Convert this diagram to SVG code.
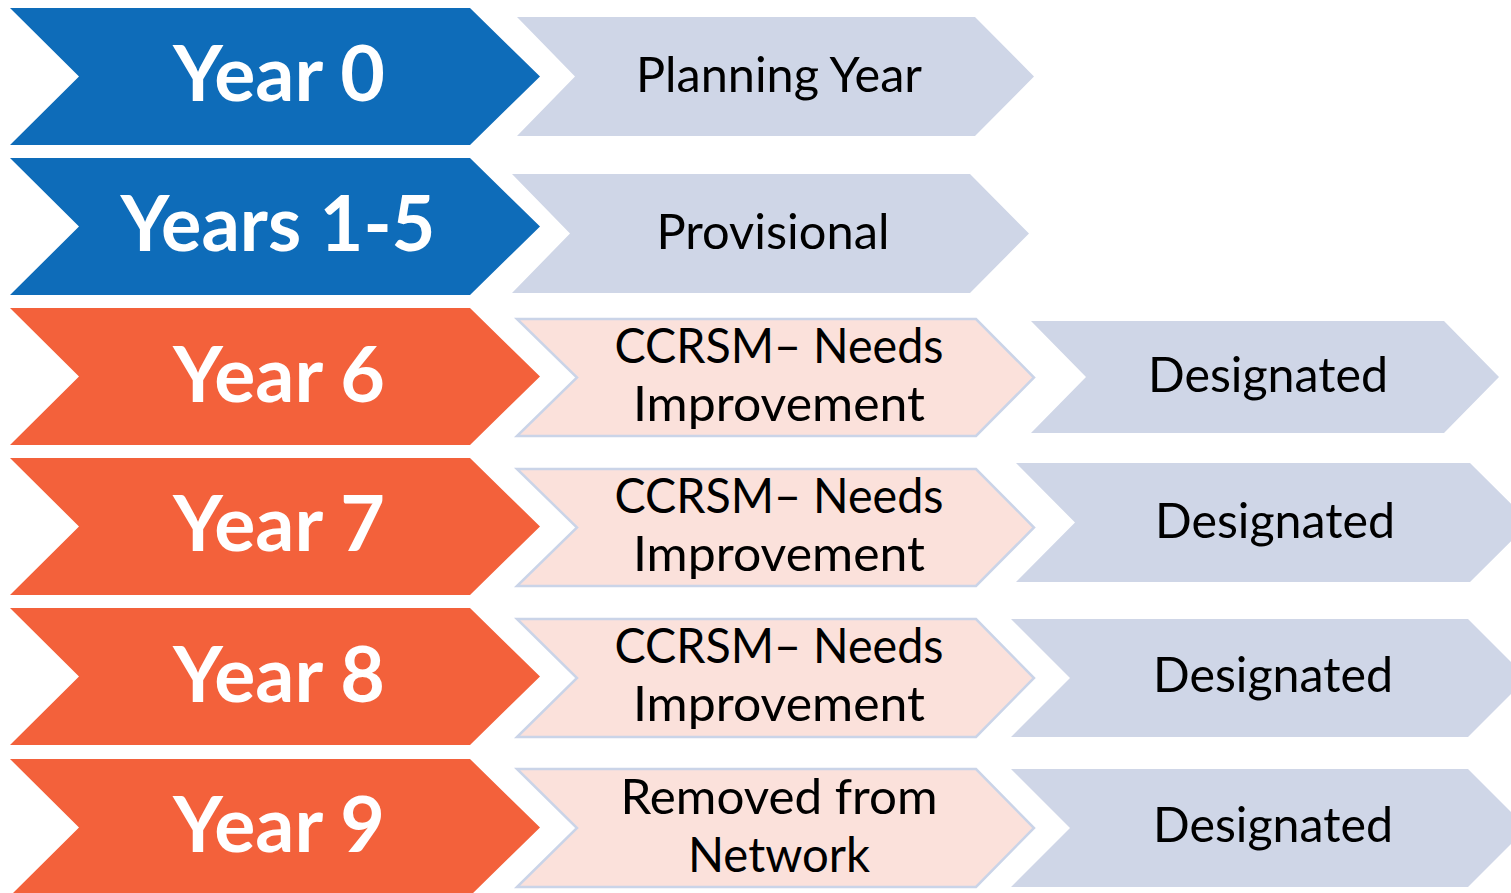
<svg xmlns="http://www.w3.org/2000/svg" width="1511" height="893" viewBox="0 0 1511 893">
<style>
.blue{fill:#0E6CB9}
.orange{fill:#F3613B}
.grey{fill:#CFD6E7}
.pink{fill:#FBE1DB;stroke:#CAD4E8;stroke-width:2.5}
.yr{font-family:Lato,"Open Sans","Liberation Sans",sans-serif;font-weight:bold;font-size:76px;fill:#FFFFFF;text-anchor:middle}
.lb{font-family:Lato,"Open Sans","Liberation Sans",sans-serif;font-size:48px;fill:#000000;text-anchor:middle}
</style>
<rect width="1511" height="893" fill="#FFFFFF"/>
<g id="year0">
<polygon class="blue" points="10,8 470,8 540,76.5 470,145 10,145 79,76.5"/>
<text class="yr" x="279" y="101" textLength="212" lengthAdjust="spacingAndGlyphs">Year 0</text>
</g>
<g id="years1-5">
<polygon class="blue" points="10,158 470,158 540,226.5 470,295 10,295 79,226.5"/>
<text class="yr" x="278" y="251" textLength="315" lengthAdjust="spacingAndGlyphs">Years 1-5</text>
</g>
<g id="year6">
<polygon class="orange" points="10,308 470,308 540,376.5 470,445 10,445 79,376.5"/>
<text class="yr" x="279" y="402" textLength="212" lengthAdjust="spacingAndGlyphs">Year 6</text>
</g>
<g id="year7">
<polygon class="orange" points="10,458 470,458 540,526.5 470,595 10,595 79,526.5"/>
<text class="yr" x="279" y="551" textLength="212" lengthAdjust="spacingAndGlyphs">Year 7</text>
</g>
<g id="year8">
<polygon class="orange" points="10,608 470,608 540,676.5 470,745 10,745 79,676.5"/>
<text class="yr" x="279" y="702" textLength="212" lengthAdjust="spacingAndGlyphs">Year 8</text>
</g>
<g id="year9">
<polygon class="orange" points="10,759 470,759 540,827.5 470,896 10,896 79,827.5"/>
<text class="yr" x="279" y="852" textLength="212" lengthAdjust="spacingAndGlyphs">Year 9</text>
</g>
<g id="planning">
<polygon class="grey" points="517,17 975,17 1034,76.5 975,136 517,136 575,76.5"/>
<text class="lb" x="779" y="92" textLength="286" lengthAdjust="spacingAndGlyphs">Planning Year</text>
</g>
<g id="provisional">
<polygon class="grey" points="512,174 970,174 1029,233.5 970,293 512,293 570,233.5"/>
<text class="lb" x="773" y="249" textLength="233" lengthAdjust="spacingAndGlyphs">Provisional</text>
</g>
<g id="status6">
<polygon class="pink" points="517,319 976,319 1034,377.5 976,436 517,436 577,377.5"/>
<text class="lb" x="779" y="363" textLength="329" lengthAdjust="spacingAndGlyphs">CCRSM– Needs</text>
<text class="lb" x="779" y="421" textLength="292" lengthAdjust="spacingAndGlyphs">Improvement</text>
</g>
<g id="status7">
<polygon class="pink" points="517,469 976,469 1034,527.5 976,586 517,586 577,527.5"/>
<text class="lb" x="779" y="513" textLength="329" lengthAdjust="spacingAndGlyphs">CCRSM– Needs</text>
<text class="lb" x="779" y="571" textLength="292" lengthAdjust="spacingAndGlyphs">Improvement</text>
</g>
<g id="status8">
<polygon class="pink" points="517,619 976,619 1034,678 976,737 517,737 577,678"/>
<text class="lb" x="779" y="663" textLength="329" lengthAdjust="spacingAndGlyphs">CCRSM– Needs</text>
<text class="lb" x="779" y="721" textLength="292" lengthAdjust="spacingAndGlyphs">Improvement</text>
</g>
<g id="status9">
<polygon class="pink" points="517,769 976,769 1034,828 976,887 517,887 577,828"/>
<text class="lb" x="779" y="814" textLength="317" lengthAdjust="spacingAndGlyphs">Removed from</text>
<text class="lb" x="779" y="872" textLength="182" lengthAdjust="spacingAndGlyphs">Network</text>
</g>
<g id="designated6">
<polygon class="grey" points="1031,321 1444,321 1499,377 1444,433 1031,433 1086,377"/>
<text class="lb" x="1268" y="392" textLength="240" lengthAdjust="spacingAndGlyphs">Designated</text>
</g>
<g id="designated7">
<polygon class="grey" points="1016,463 1470,463 1530,522.5 1470,582 1016,582 1075,522.5"/>
<text class="lb" x="1275" y="538" textLength="240" lengthAdjust="spacingAndGlyphs">Designated</text>
</g>
<g id="designated8">
<polygon class="grey" points="1011,619 1468,619 1527,678 1468,737 1011,737 1070,678"/>
<text class="lb" x="1273" y="692" textLength="240" lengthAdjust="spacingAndGlyphs">Designated</text>
</g>
<g id="designated9">
<polygon class="grey" points="1011,769 1468,769 1527,828 1468,887 1011,887 1070,828"/>
<text class="lb" x="1273" y="842" textLength="240" lengthAdjust="spacingAndGlyphs">Designated</text>
</g>
</svg>
